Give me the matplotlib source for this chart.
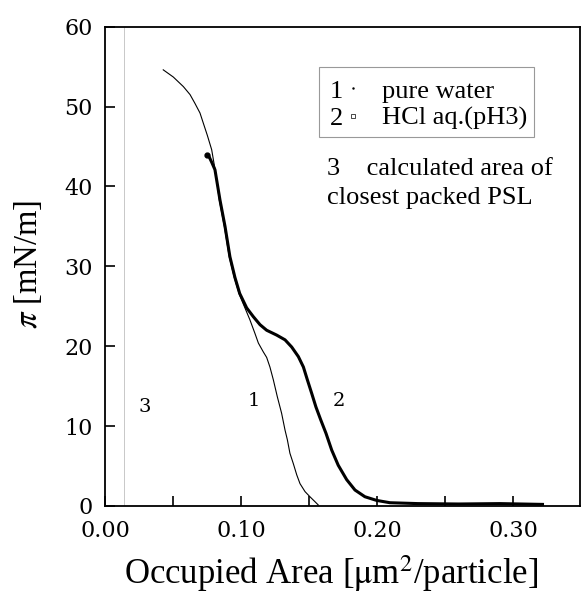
import numpy as np
import matplotlib
matplotlib.use("Agg")
import matplotlib.pyplot as plt
from matplotlib.ticker import MultipleLocator, FuncFormatter
from matplotlib.patches import Rectangle

plt.rcParams['font.family'] = ['Liberation Serif', 'DejaVu Serif']
plt.rcParams['mathtext.fontset'] = 'stix'

# curve 1: pure water
water_x = [0.0428, 0.0502, 0.0576, 0.0625, 0.0661, 0.0698, 0.0723, 0.0752, 0.0784,
           0.0815, 0.0840, 0.0877, 0.0913, 0.0950, 0.0985, 0.1016, 0.1065, 0.1102,
           0.1127, 0.1163, 0.1188, 0.1212, 0.1237, 0.1266, 0.1298, 0.1323, 0.1340,
           0.1359, 0.1384, 0.1409, 0.1433, 0.1470, 0.1506, 0.1543, 0.1567]
water_y = [54.6, 53.7, 52.5, 51.5, 50.4, 49.2, 47.9, 46.4, 44.6,
           41.5, 38.3, 35.0, 31.2, 28.6, 26.6, 25.3, 23.3, 21.6,
           20.4, 19.3, 18.6, 17.4, 15.8, 13.7, 11.6, 9.5, 8.3,
           6.6, 5.3, 3.9, 2.8, 1.8, 1.16, 0.54, 0.13]

# curve 2: HCl aq. (pH3)
hcl_x = [0.0752, 0.0763, 0.0785, 0.0808, 0.0845, 0.0882, 0.0918, 0.0955, 0.0990,
         0.1041, 0.1090, 0.1139, 0.1188, 0.1261, 0.1323, 0.1372, 0.1421, 0.1458,
         0.1487, 0.1519, 0.1550, 0.1585, 0.1624, 0.1666, 0.1714, 0.1776, 0.1837,
         0.1910, 0.1996, 0.2094, 0.2300, 0.2600, 0.2900, 0.3215]
hcl_y = [43.9, 43.8, 43.0, 42.1, 38.3, 35.0, 31.2, 28.6, 26.6,
         24.8, 23.7, 22.7, 22.0, 21.4, 20.8, 19.9, 18.7, 17.4,
         15.8, 14.1, 12.4, 10.8, 9.1, 7.0, 5.1, 3.3, 2.0,
         1.16, 0.7, 0.41, 0.3, 0.25, 0.3, 0.2]

# 3: calculated area of closest packed PSL
packed_area = 0.0142

curve_labels = ['1', '2', '3']
curve_label_x = [0.1091, 0.1722, 0.0294]
curve_label_y = [13.1, 13.1, 12.4]

fig = plt.figure(figsize=(5.81, 5.94), dpi=100)
ax = fig.add_axes([105 / 581, 1 - 506 / 594, 474.5 / 581, 479.3 / 594])

ax.axvline(packed_area, color='#c8c8c8', lw=0.7)
ax.plot(water_x, water_y, color='black', lw=0.8)
ax.plot(hcl_x, hcl_y, color='black', lw=2.2)
ax.plot(hcl_x[0], hcl_y[0], 'o', color='black', ms=3.5)

for lab, lx, ly in zip(curve_labels, curve_label_x, curve_label_y):
    ax.text(lx, ly, lab, fontsize=14, family='DejaVu Serif', ha='center', va='center')

ax.set_xlim(0, 0.3487)
ax.set_ylim(0, 60)
ax.xaxis.set_major_locator(MultipleLocator(0.1))
ax.xaxis.set_minor_locator(MultipleLocator(0.05))
ax.xaxis.set_major_formatter(FuncFormatter(lambda v, p: f"{v:.2f}"))
ax.yaxis.set_major_locator(MultipleLocator(10))
ax.tick_params(which='both', direction='in', length=7, width=1.2, top=False, right=False)
ax.tick_params(axis='x', labelsize=16, pad=10)
ax.tick_params(axis='y', labelsize=16, pad=9)
for lbl in ax.get_xticklabels() + ax.get_yticklabels():
    lbl.set_family('DejaVu Serif')
for s in ax.spines.values():
    s.set_linewidth(1.3)

ax.set_xlabel(r"Occupied Area [$\mathrm{\mu}$m$^2$/particle]", fontsize=25)
ax.xaxis.set_label_coords(0.476, -0.14)
ax.xaxis.label.set_va('center')
ax.set_ylabel(r"$\pi$ [mN/m]", fontsize=23.5)
ax.yaxis.set_label_coords(-0.162, 0.505)
ax.yaxis.label.set_va('center')

# legend box drawn by hand
ax.add_patch(Rectangle((0.4516, 0.770), 0.4524, 0.1466, transform=ax.transAxes,
                       fill=False, edgecolor='#999999', lw=0.8))
legend_rows = [('1', 'pure water', 98.3), ('2', 'HCl aq.(pH3)', 125.0)]
for num, txt, yb in legend_rows:
    ax.text((336.7 - 105) / 474.5, (506 - yb) / 479.3, num, fontsize=19,
            ha='center', va='baseline', transform=ax.transAxes)
    ax.text((381.7 - 105) / 474.5, (506 - yb) / 479.3, txt, fontsize=19,
            ha='left', va='baseline', transform=ax.transAxes)
ax.plot([(352.7 - 105) / 474.5], [(506 - 88) / 479.3], marker='.', ms=1.5,
        color='black', transform=ax.transAxes)
ax.plot([(352.7 - 105) / 474.5], [(506 - 115.7) / 479.3], marker='s', ms=2.5,
        mfc='none', mec='black', mew=0.5, transform=ax.transAxes)

ax.text((326.7 - 105) / 474.5, (506 - 175) / 479.3, "3    calculated area of",
        fontsize=19, ha='left', va='baseline', transform=ax.transAxes)
ax.text((326.7 - 105) / 474.5, (506 - 204) / 479.3, "closest packed PSL",
        fontsize=19, ha='left', va='baseline', transform=ax.transAxes)

fig.savefig("out.png", dpi=100)
